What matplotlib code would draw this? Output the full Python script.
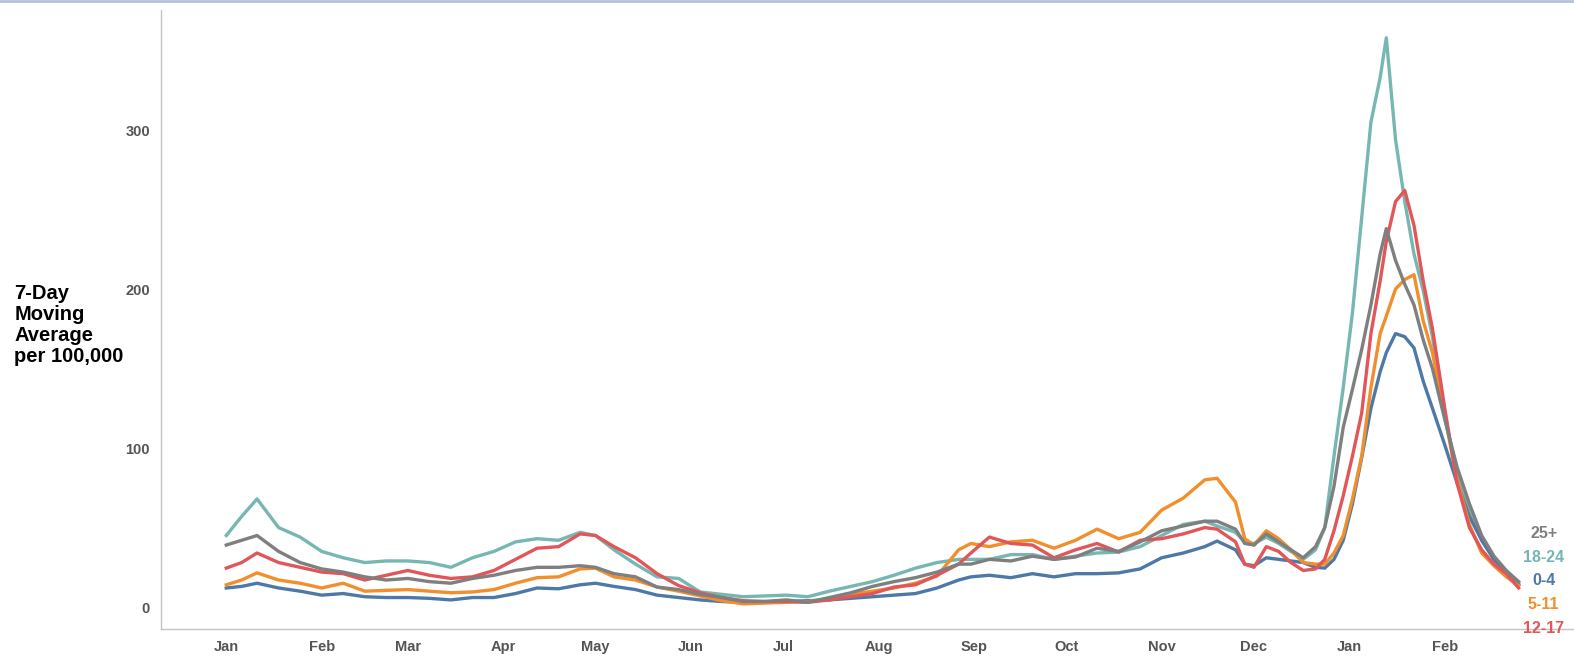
"""7-day moving average of cases per 100,000 by age group, Jan 2021 - Feb 2022."""
import matplotlib
matplotlib.use('Agg')
from matplotlib import pyplot as plt
from matplotlib.lines import Line2D
import matplotlib.dates as mdates
import pandas as pd

# days since 2021-01-01 of each sample
DAYS = [0, 5, 10, 17, 24, 31, 38, 45, 52, 59, 66, 73, 80, 87, 94, 101, 108, 115,
        120, 126, 133, 140, 147, 154, 161, 168, 175, 182, 189, 196, 203, 210, 217,
        224, 231, 238, 242, 248, 255, 262, 269, 276, 283, 290, 297, 304, 311, 318,
        322, 328, 331, 334, 338, 342, 346, 350, 354, 357, 360, 363, 366, 369, 372,
        375, 377, 380, 383, 386, 389, 392, 396, 400, 404, 408, 412, 416, 420]

AGE_18_24 = [45, 57, 68, 50, 44, 35, 31, 28, 29, 29,
             28, 25, 31, 35, 41, 43, 42, 47, 45, 36,
             27, 19, 18, 9.5, 8, 6.5, 7, 7.5, 6.5, 10,
             13, 16, 20, 24.5, 28, 30, 30, 30, 33, 33,
             30, 32, 34, 34.6, 38, 45, 52, 54, 51, 47,
             41, 40, 44, 40, 35, 30, 36, 50, 95, 138,
             185, 245, 305, 333, 358, 294, 255, 222, 199, 170,
             120, 85, 60, 42, 30, 22, 15]
AGE_25_PLUS = [39, 42, 45, 35, 28, 24, 22, 19, 17, 18,
               16, 15, 18, 20, 23, 25, 25, 26, 25, 21,
               19, 12.6, 11, 8, 6, 3.5, 3.5, 4.5, 3, 6,
               9, 13, 16, 18.5, 22, 27, 27, 30, 29, 32,
               30, 31.5, 37, 35, 41, 48, 51, 54, 54, 49,
               40, 39, 46, 41, 36, 31, 38, 50, 76, 113,
               137, 162, 190, 222, 238, 218, 203, 190, 168, 150,
               118, 88, 65, 45, 32, 23, 16]
AGE_12_17 = [24.5, 28, 34, 28, 25, 22, 21, 17, 20, 23,
             20, 18, 19, 23, 30, 37, 38, 46, 45, 38,
             31, 21, 13.5, 9, 6, 4, 3.5, 3.5, 3, 4.5,
             6.5, 8.5, 12.6, 14, 20, 27, 34, 44, 40, 39,
             31, 36, 40, 34.6, 42, 43, 46, 50, 49, 41,
             27, 25, 38, 35, 28, 23, 24, 30, 48, 70,
             95, 122, 172, 205, 230, 255, 262, 240, 205, 175,
             125, 78, 50, 36, 27, 21, 12]
AGE_5_11 = [14, 17, 21.5, 17, 15, 12, 15, 10, 10.5, 11,
            10, 9, 9.5, 11, 15, 18.5, 19, 24, 24.5, 19,
            17, 12.6, 10, 7, 4, 2, 2.5, 3, 3.5, 5,
            8, 10, 12, 15, 19.5, 36, 40, 38, 41, 42,
            37, 42, 49, 43, 47, 61, 68.5, 80, 81, 66,
            43, 39, 48, 43, 36, 28, 27, 27, 34, 45,
            68, 95, 138, 172, 183, 200, 206, 209, 180, 160,
            120, 80, 52, 34, 26, 19, 13.5]
AGE_0_4 = [12, 13, 15, 12, 10, 7.5, 8.5, 6.5, 6, 6,
           5.5, 4.5, 6, 6, 8.5, 12, 11.5, 14, 15, 13,
           11, 7.5, 6, 4.5, 3.5, 3, 3, 3.5, 4, 4.5,
           5.5, 6.5, 7.5, 8.5, 12, 17, 19, 20, 18.5, 21,
           19, 21, 21, 21.5, 24, 31, 34, 38, 41.5, 36,
           27, 26, 31, 30, 29, 28, 25, 24.5, 30, 42,
           65, 94, 125, 148, 160, 172, 170, 163, 142, 125,
           102, 78, 57, 42, 30, 22, 14]

SERIES = [('18-24', AGE_18_24, '#76b7b2'),
          ('0-4', AGE_0_4, '#4e79a7'),
          ('5-11', AGE_5_11, '#f28e2b'),
          ('12-17', AGE_12_17, '#e15759'),
          ('25+', AGE_25_PLUS, '#7f7f7f')]
LABEL_ORDER = ['25+', '18-24', '0-4', '5-11', '12-17']

dates = pd.Timestamp('2021-01-01') + pd.to_timedelta(DAYS, unit='D')
colors = {name: c for name, _, c in SERIES}

plt.rcParams['font.family'] = ['Liberation Sans', 'DejaVu Sans']
fig = plt.figure(figsize=(15.74, 6.57), dpi=100)
ax = fig.add_axes([0.1023, 0.0426, 0.8977, 0.9422])

for name, vals, color in SERIES:
    ax.plot(dates, vals, color=color, lw=2.4, solid_joinstyle='round')

ax.set_xlim(pd.Timestamp('2020-12-10 19:00'), pd.Timestamp('2022-03-15'))
ax.set_ylim(-13.8, 375.5)
ax.set_yticks([0, 100, 200, 300])
ax.set_xticks(pd.date_range('2021-01-01', '2022-02-01', freq='MS'))
ax.xaxis.set_major_formatter(mdates.DateFormatter('%b'))
ax.tick_params(length=0, labelsize=10.5, labelcolor='#555555', pad=8)
ax.tick_params(axis='y', pad=8)
for lab in ax.get_xticklabels() + ax.get_yticklabels():
    lab.set_fontweight('bold')

for side in ['top', 'right']:
    ax.spines[side].set_visible(False)
for side in ['left', 'bottom']:
    ax.spines[side].set_color('#c4c4c4')
    ax.spines[side].set_linewidth(1.0)

# end-of-line labels stacked on the right
for i, name in enumerate(LABEL_ORDER):
    ax.text(0.9785, 0.1545 - i * 0.0383, name, transform=ax.transAxes,
            ha='center', va='center', fontsize=11.5, fontweight='bold',
            color=colors[name])

fig.text(0.009, 0.505, '7-Day\nMoving\nAverage\nper 100,000', ha='left', va='center',
         fontsize=14.5, fontweight='bold', color='black', linespacing=1.13)

fig.add_artist(Line2D([0, 1], [0.998, 0.998], color='#b3c2da', lw=2,
                      transform=fig.transFigure))

fig.savefig('out.png', dpi=100)
